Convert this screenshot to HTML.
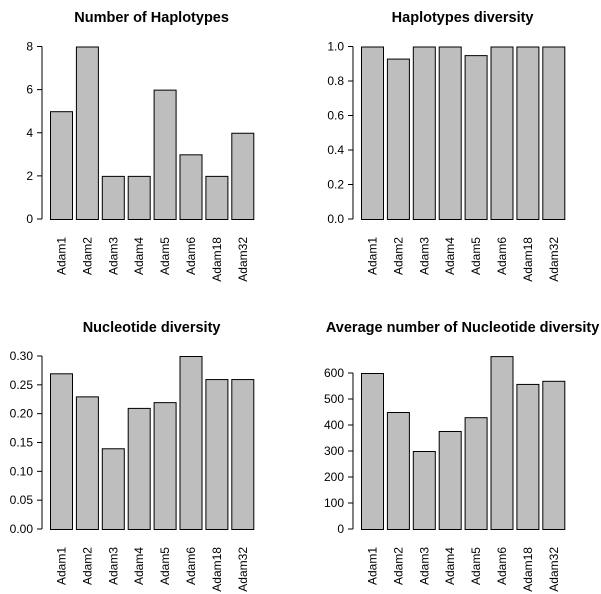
<!DOCTYPE html>
<html><head><meta charset="utf-8"><style>
body{margin:0;background:#fff;}
svg{display:block;font-family:"Liberation Sans",Arial,sans-serif;}
</style></head><body>
<svg id="c" width="601" height="594" viewBox="0 0 601 594" xmlns="http://www.w3.org/2000/svg"></svg>
<script>
const categories = ["Adam1","Adam2","Adam3","Adam4","Adam5","Adam6","Adam18","Adam32"];
const haplotypeCounts = [5,8,2,2,6,3,2,4];
const haplotypeDiversity = [1,0.93,1,1,0.95,1,1,1];
const nucleotideDiversity = [0.27,0.23,0.14,0.21,0.22,0.30,0.26,0.26];
const avgNucleotideDiversity = [600,450,300,377,430,665,558,570];
const ticksA = [0,2,4,6,8];
const ticksB = [0,0.2,0.4,0.6,0.8,1.0];
const ticksC = [0,0.05,0.10,0.15,0.20,0.25,0.30];
const ticksD = [0,100,200,300,400,500,600];

const svg=document.getElementById('c');
const NS='http://www.w3.org/2000/svg';
function mk(t,a,p){const e=document.createElementNS(NS,t);for(const k in a)e.setAttribute(k,a[k]);(p||svg).appendChild(e);return e;}

const panels=[
 {name:'number-of-haplotypes',title:'Number of Haplotypes',vals:haplotypeCounts,ticks:ticksA,dec:0,ax:42,y0:219,ymax:8,yTop:46.5,title_y:22},
 {name:'haplotypes-diversity',title:'Haplotypes diversity',vals:haplotypeDiversity,ticks:ticksB,dec:1,ax:353,y0:219,ymax:1,yTop:46.5,title_y:22},
 {name:'nucleotide-diversity',title:'Nucleotide diversity',vals:nucleotideDiversity,ticks:ticksC,dec:2,ax:42,y0:529,ymax:0.30,yTop:356,title_y:332},
 {name:'average-nucleotide-diversity',title:'Average number of Nucleotide diversity',vals:avgNucleotideDiversity,ticks:ticksD,dec:0,ax:353,y0:529,ymax:600,yTop:373,title_y:332}
];
panels.forEach(p=>{
  const g=mk('g',{});
  
  
  const x0=p.ax+8, step=25.9, bw=22;
  const y=v=>p.y0-(v/p.ymax)*(p.y0-p.yTop);
  const cx=x0+(8*step-4)/2;
  const t=mk('text',{x:cx,y:p.title_y,'text-anchor':'middle','font-size':14.5,'font-weight':'bold'},g);
  t.textContent=p.title;
  
  
  const axis=mk('line',{x1:p.ax,x2:p.ax,y1:y(p.ticks[0]),y2:y(p.ticks[p.ticks.length-1]),stroke:'#000'},g);
  
  
  p.ticks.forEach(tv=>{
    mk('line',{x1:p.ax-5,x2:p.ax,y1:y(tv),y2:y(tv),stroke:'#000'},g);
    const tl=mk('text',{x:p.ax-9,y:y(tv)+4,'text-anchor':'end','font-size':12},g);
    tl.textContent=tv.toFixed(p.dec);
    
    
  });
  p.vals.forEach((v,i)=>{
    const bx=x0+i*step;
    const r=mk('rect',{x:bx+0.5,y:y(v)+0.5,width:bw,height:p.y0-y(v),fill:'#bebebe',stroke:'#000','stroke-width':1},g);
    
    
    const lx=bx+bw/2+4.5, ly=p.y0+18;
    const l=mk('text',{x:lx,y:ly,'text-anchor':'end','font-size':12,transform:`rotate(-90 ${lx} ${ly})`},g);
    l.textContent=categories[i];
    
    
  });
});
</script>
</body></html>
